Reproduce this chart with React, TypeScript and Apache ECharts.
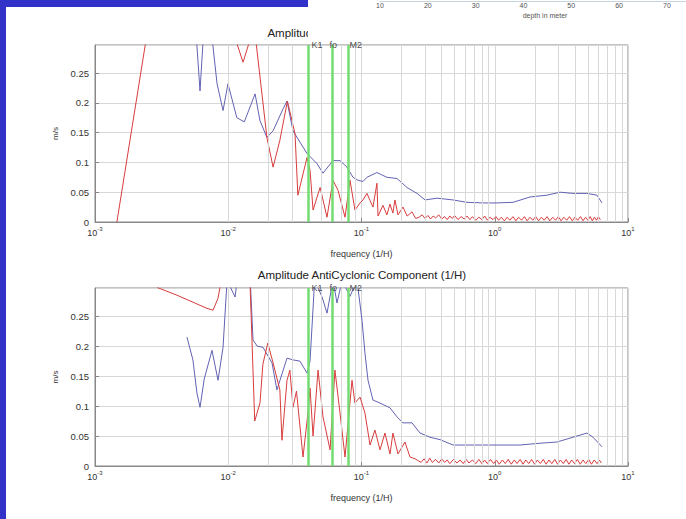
import React, { useEffect, useRef } from "react";
import * as echarts from "echarts";

// ---- data (frequency in cycles per hour, amplitude in m/s) ----
const tidalNames = ["K1", "fo", "M2"];
const tidalFreqs = [0.0418, 0.057, 0.0805];

const minorGridFreqs = [
  0.002, 0.003, 0.004, 0.005, 0.006, 0.007, 0.008, 0.009,
  0.02, 0.03, 0.04, 0.05, 0.06, 0.07, 0.08, 0.09,
  0.2, 0.3, 0.4, 0.5, 0.6, 0.7, 0.8, 0.9,
  2, 3, 4, 5, 6, 7, 8, 9,
];

const cycBlue: [number, number][] = [
  [0.0052, 0.42], [0.0058, 0.3], [0.00614, 0.22], [0.0065, 0.31], [0.0072, 0.36],
  [0.00755, 0.31], [0.00824, 0.232], [0.00914, 0.187], [0.00995, 0.232], [0.0116, 0.175],
  [0.0132, 0.168], [0.0159, 0.215], [0.0173, 0.17], [0.0195, 0.142], [0.0217, 0.153],
  [0.0258, 0.19], [0.0276, 0.203], [0.0306, 0.153], [0.039, 0.115], [0.0463, 0.098],
  [0.0514, 0.082], [0.0611, 0.103], [0.069, 0.103], [0.0778, 0.092], [0.0863, 0.075],
  [0.0942, 0.07], [0.1026, 0.068], [0.1099, 0.075], [0.1306, 0.083], [0.1552, 0.075],
  [0.1845, 0.073], [0.2193, 0.058], [0.2612, 0.048], [0.3, 0.037], [0.369, 0.04],
  [0.486, 0.037], [0.619, 0.033], [0.817, 0.032], [1.04, 0.032], [1.371, 0.033],
  [1.84, 0.042], [2.466, 0.045], [3.09, 0.05], [3.864, 0.048], [4.922, 0.048],
  [5.848, 0.045], [6.383, 0.032],
];

const cycRed: [number, number][] = [
  [0.00146, 0], [0.0026, 0.35], [0.0045, 0.42], [0.008, 0.4], [0.0105, 0.33],
  [0.01291, 0.268], [0.015, 0.315], [0.0162, 0.3], [0.0195, 0.142], [0.0217, 0.092],
  [0.0244, 0.137], [0.0278, 0.203], [0.0317, 0.148], [0.0333, 0.045], [0.039, 0.108],
  [0.0411, 0.087], [0.0433, 0.02], [0.0489, 0.058], [0.0551, 0.008], [0.0611, 0.07],
  [0.0667, 0.053], [0.0752, 0.008], [0.082, 0.07], [0.0893, 0.02], [0.0975, 0.032],
  [0.1026, 0.037], [0.1099, 0.048], [0.1219, 0.025], [0.1306, 0.065], [0.133, 0.01],
  [0.1449, 0.028], [0.155, 0.012], [0.1637, 0.03], [0.172, 0.015], [0.1782, 0.037],
  [0.1879, 0.012], [0.2047, 0.025], [0.22, 0.01], [0.2393, 0.017], [0.255, 0.006],
  [0.27, 0.008], [0.285, 0.012], [0.3, 0.006], [0.315, 0.011], [0.33, 0.005],
  [0.345, 0.01], [0.36, 0.007], [0.38, 0.012], [0.4, 0.005], [0.42, 0.009],
  [0.44, 0.004], [0.46, 0.01], [0.48, 0.006], [0.5, 0.011], [0.53, 0.004],
  [0.56, 0.009], [0.59, 0.005], [0.62, 0.01], [0.65, 0.004], [0.68, 0.009],
  [0.72, 0.003], [0.76, 0.008], [0.8, 0.004], [0.84, 0.01], [0.88, 0.003],
  [0.92, 0.008], [0.97, 0.004], [1.02, 0.009], [1.07, 0.003], [1.12, 0.008],
  [1.18, 0.002], [1.24, 0.008], [1.3, 0.003], [1.37, 0.009], [1.44, 0.002],
  [1.51, 0.008], [1.59, 0.003], [1.67, 0.009], [1.75, 0.002], [1.84, 0.008],
  [1.93, 0.003], [2.03, 0.009], [2.13, 0.002], [2.24, 0.008], [2.35, 0.003],
  [2.47, 0.009], [2.59, 0.002], [2.72, 0.008], [2.86, 0.003], [3.0, 0.009],
  [3.15, 0.002], [3.3, 0.008], [3.47, 0.003], [3.64, 0.009], [3.82, 0.002],
  [4.0, 0.008], [4.2, 0.003], [4.4, 0.009], [4.6, 0.002], [4.8, 0.008],
  [5.0, 0.003], [5.2, 0.009], [5.4, 0.002], [5.6, 0.008], [5.8, 0.003],
  [6.0, 0.009], [6.2, 0.004],
];

const antiBlue: [number, number][] = [
  [0.0049, 0.215], [0.00543, 0.177], [0.00582, 0.122], [0.00614, 0.098], [0.0066, 0.145],
  [0.00755, 0.193], [0.00838, 0.143], [0.00914, 0.198], [0.0098, 0.31], [0.01125, 0.282],
  [0.0118, 0.32], [0.0138, 0.32], [0.0147, 0.3], [0.01535, 0.21], [0.0165, 0.2],
  [0.01824, 0.198], [0.0213, 0.172], [0.0232, 0.127], [0.0276, 0.18], [0.0306, 0.177],
  [0.0345, 0.175], [0.039, 0.155], [0.0411, 0.175], [0.0445, 0.31], [0.0506, 0.282],
  [0.0551, 0.255], [0.0611, 0.31], [0.0655, 0.272], [0.0715, 0.31], [0.082, 0.283],
  [0.0925, 0.31], [0.1009, 0.243], [0.1062, 0.188], [0.1119, 0.143], [0.1219, 0.11],
  [0.1377, 0.105], [0.1637, 0.097], [0.1845, 0.082], [0.2047, 0.072], [0.2393, 0.072],
  [0.2748, 0.055], [0.3266, 0.048], [0.3882, 0.044], [0.4864, 0.035], [0.6871, 0.035],
  [1.04, 0.035], [1.545, 0.035], [2.188, 0.038], [2.931, 0.04], [3.864, 0.048],
  [4.922, 0.055], [5.459, 0.048], [6.383, 0.032],
];

const antiRed: [number, number][] = [
  [0.0026, 0.31], [0.00292, 0.298], [0.00412, 0.285], [0.00693, 0.263], [0.00769, 0.26],
  [0.00838, 0.28], [0.0092, 0.33], [0.012, 0.36], [0.0146, 0.3], [0.0158, 0.075],
  [0.0173, 0.105], [0.0182, 0.17], [0.0198, 0.205], [0.0217, 0.172], [0.0244, 0.127],
  [0.0253, 0.043], [0.0276, 0.143], [0.029, 0.16], [0.0306, 0.098], [0.0325, 0.125],
  [0.0364, 0.015], [0.0396, 0.088], [0.0411, 0.13], [0.0433, 0.05], [0.0472, 0.16],
  [0.0514, 0.082], [0.0581, 0.027], [0.0632, 0.16], [0.069, 0.088], [0.0752, 0.015],
  [0.0849, 0.143], [0.0893, 0.105], [0.0975, 0.115], [0.1062, 0.088], [0.1159, 0.035],
  [0.1262, 0.06], [0.1377, 0.027], [0.15, 0.055], [0.1637, 0.02], [0.1722, 0.055],
  [0.1879, 0.02], [0.2118, 0.04], [0.2312, 0.015], [0.2523, 0.012], [0.28, 0.006],
  [0.295, 0.012], [0.31, 0.005], [0.325, 0.013], [0.34, 0.006], [0.36, 0.011],
  [0.38, 0.005], [0.4, 0.012], [0.42, 0.006], [0.44, 0.01], [0.46, 0.004],
  [0.49, 0.011], [0.52, 0.005], [0.55, 0.01], [0.58, 0.004], [0.61, 0.011],
  [0.64, 0.005], [0.68, 0.01], [0.72, 0.004], [0.76, 0.011], [0.8, 0.004],
  [0.84, 0.01], [0.88, 0.004], [0.93, 0.011], [0.98, 0.004], [1.03, 0.01],
  [1.08, 0.003], [1.14, 0.01], [1.2, 0.004], [1.26, 0.011], [1.33, 0.003],
  [1.4, 0.01], [1.47, 0.004], [1.55, 0.011], [1.63, 0.003], [1.71, 0.01],
  [1.8, 0.004], [1.89, 0.011], [1.99, 0.003], [2.09, 0.01], [2.2, 0.004],
  [2.31, 0.011], [2.43, 0.003], [2.55, 0.01], [2.68, 0.004], [2.82, 0.011],
  [2.96, 0.003], [3.11, 0.01], [3.27, 0.004], [3.43, 0.011], [3.6, 0.003],
  [3.78, 0.01], [3.97, 0.004], [4.17, 0.011], [4.38, 0.003], [4.6, 0.01],
  [4.83, 0.004], [5.07, 0.011], [5.32, 0.003], [5.58, 0.01], [5.85, 0.004],
  [6.1, 0.01], [6.3, 0.005],
];

const Y_MAX = 0.297;
const FONT = "Liberation Sans, Arial, Helvetica, sans-serif";
const BLUE = "#6262b4";
const RED = "#d83c3c";
const GREEN = "#72dc72";
const GRIDC = "#d8d8d8";

function logAxis(gridIndex: number) {
  return {
    gridIndex,
    type: "log",
    logBase: 10,
    min: 0.001,
    max: 10,
    name: "frequency (1/H)",
    nameLocation: "middle",
    nameGap: 27,
    nameTextStyle: { fontSize: 9, color: "#333", fontFamily: FONT },
    axisLine: { show: true, lineStyle: { color: "#888" } },
    axisTick: { show: true, inside: true, length: 4, lineStyle: { color: "#888" } },
    splitLine: { show: true, lineStyle: { color: GRIDC, width: 1 } },
    axisLabel: {
      margin: 4,
      formatter: (v: number) => `{b|10}{s|${Math.round(Math.log10(v))}}`,
      rich: {
        b: { fontSize: 9, color: "#333", fontFamily: FONT },
        s: { fontSize: 6, color: "#333", fontFamily: FONT, padding: [0, 0, 8, 0] },
      },
    },
  };
}

function ampAxis(gridIndex: number) {
  return {
    gridIndex,
    type: "value",
    min: 0,
    max: Y_MAX,
    interval: 0.05,
    name: "m/s",
    nameLocation: "middle",
    nameGap: 34,
    nameRotate: 90,
    nameTextStyle: { fontSize: 8, color: "#333", fontFamily: FONT },
    axisLine: { show: true, lineStyle: { color: "#888" } },
    axisTick: { show: true, inside: true, length: 4, lineStyle: { color: "#888" } },
    splitLine: { show: true, lineStyle: { color: GRIDC, width: 1 } },
    axisLabel: { fontSize: 9.5, color: "#333", margin: 6, showMaxLabel: false, fontFamily: FONT },
  };
}

function panelSeries(idx: number, blue: [number, number][], red: [number, number][]) {
  return [
    {
      type: "line",
      xAxisIndex: idx,
      yAxisIndex: idx,
      data: [],
      silent: true,
      z: 1,
      markLine: {
        silent: true,
        symbol: ["none", "none"],
        label: { show: false },
        lineStyle: { color: GRIDC, width: 1, type: "solid" },
        data: minorGridFreqs.map((f) => ({ xAxis: f })),
      },
    },
    {
      type: "line",
      xAxisIndex: idx,
      yAxisIndex: idx,
      data: [],
      silent: true,
      z: 2,
      markLine: {
        silent: true,
        symbol: ["none", "none"],
        label: { show: false },
        lineStyle: { color: GREEN, width: 2.5, type: "solid" },
        data: tidalFreqs.map((f) => ({ xAxis: f })),
      },
    },
    {
      name: "blue",
      type: "line",
      xAxisIndex: idx,
      yAxisIndex: idx,
      data: blue,
      showSymbol: false,
      z: 3,
      lineStyle: { color: BLUE, width: 1 },
      itemStyle: { color: BLUE },
    },
    {
      name: "red",
      type: "line",
      xAxisIndex: idx,
      yAxisIndex: idx,
      data: red,
      showSymbol: false,
      z: 4,
      lineStyle: { color: RED, width: 1 },
      itemStyle: { color: RED },
    },
    {
      type: "scatter",
      xAxisIndex: idx,
      yAxisIndex: idx,
      symbolSize: 1,
      itemStyle: { color: "rgba(0,0,0,0)" },
      silent: true,
      clip: false,
      z: 5,
      data: tidalFreqs.map((f, i) => ({ value: [f, Y_MAX], name: tidalNames[i] })),
      label: {
        show: true,
        position: "right",
        distance: 0,
        formatter: "{b}",
        fontSize: 9,
        color: "#222",
        fontFamily: FONT,
      },
    },
  ];
}

export default function App() {
  const ref = useRef<HTMLDivElement>(null);
  useEffect(() => {
    if (!ref.current) return;
    const chart = echarts.init(ref.current, undefined, { renderer: "svg" });
    const option = {
      animation: false,
      backgroundColor: "#ffffff",
      textStyle: { fontFamily: FONT },
      title: [
        {
          text: "Amplitude Cyclonic Component (1/H)",
          left: 362,
          top: 27,
          textAlign: "center",
          padding: 0,
          textStyle: { fontSize: 11.5, fontWeight: "normal", color: "#222", fontFamily: FONT },
        },
        {
          text: "Amplitude AntiCyclonic Component (1/H)",
          left: 362,
          top: 269,
          textAlign: "center",
          padding: 0,
          textStyle: { fontSize: 11.5, fontWeight: "normal", color: "#222", fontFamily: FONT },
        },
      ],
      grid: [
        { left: 95, top: 45, width: 533, height: 177, show: true, borderColor: "#888", borderWidth: 1 },
        { left: 95, top: 288, width: 533, height: 178, show: true, borderColor: "#888", borderWidth: 1 },
        { left: 380, top: 0, width: 306, height: 1, show: false },
      ],
      xAxis: [
        logAxis(0),
        logAxis(1),
        {
          gridIndex: 2,
          type: "value",
          min: 10,
          max: 74,
          interval: 10,
          position: "bottom",
          z: 60,
          name: "depth in meter",
          nameLocation: "middle",
          nameGap: 11,
          nameTextStyle: { fontSize: 7, color: "#555", fontFamily: FONT, padding: [0, 0, 0, 24] },
          axisLine: { show: true, lineStyle: { color: "#c6d4e2" } },
          axisTick: { show: false },
          splitLine: { show: false },
          axisLabel: { fontSize: 7, color: "#555", margin: 1, showMaxLabel: false, fontFamily: FONT },
        },
      ],
      yAxis: [ampAxis(0), ampAxis(1), { gridIndex: 2, type: "value", show: false, min: 0, max: 1 }],
      graphic: [
        { type: "rect", z: 50, shape: { x: 308, y: 0, width: 378, height: 40 }, style: { fill: "#ffffff" } },
        { type: "rect", z: 51, shape: { x: 0, y: 0, width: 308, height: 7 }, style: { fill: "#3232c8" } },
        { type: "rect", z: 51, shape: { x: 0, y: 0, width: 6, height: 519 }, style: { fill: "#3232c8" } },
      ],
      series: [...panelSeries(0, cycBlue, cycRed), ...panelSeries(1, antiBlue, antiRed)],
    };
    chart.setOption(option as any);
    return () => chart.dispose();
  }, []);
  return (
    <div
      ref={ref}
      style={{ position: "fixed", left: 0, top: 0, width: 686, height: 519, background: "#fff" }}
    />
  );
}
